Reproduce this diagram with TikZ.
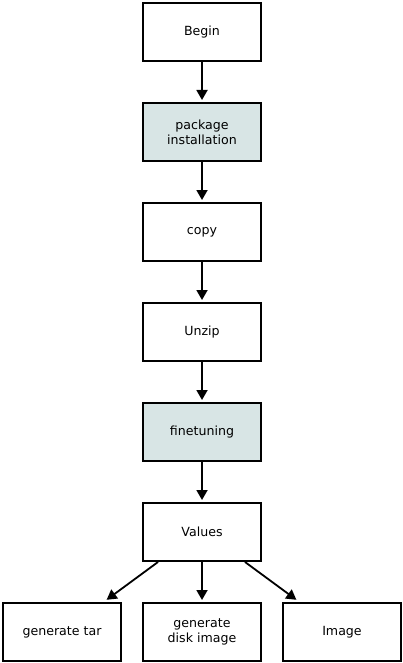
\documentclass[tikz,border=0pt]{standalone}
\usepackage{fontspec}
\setmainfont{DejaVu Sans}
\usetikzlibrary{arrows.meta}
\definecolor{boxfill}{HTML}{D8E5E5}
\tikzset{
  x=1pt,y=-1pt,
  box/.style={draw=black,line width=1.8pt,fill=white,minimum width=118.2pt,minimum height=58.2pt,inner sep=0pt,align=center,font=\fontsize{12.6}{15}\selectfont,text=black},
  shaded/.style={box,fill=boxfill},
  conn/.style={line width=1.8pt,-{Triangle[length=10pt,width=11pt]},shorten >=2pt}
}
\begin{document}
\begin{tikzpicture}
\useasboundingbox (0,0) rectangle (403,663);
\node[box] (begin) at (202,32) {Begin};
\node[shaded] (pkg) at (202,132) {package\\installation};
\node[box] (copy) at (202,232) {copy};
\node[box] (unzip) at (202,332) {Unzip};
\node[shaded] (fine) at (202,432) {finetuning};
\node[box] (values) at (202,532) {Values};
\node[box] (tar) at (62,632) {generate tar};
\node[box] (disk) at (202,632) {generate\\disk image};
\node[box] (image) at (342,632) {Image};
\draw[conn] (begin) -- (pkg);
\draw[conn] (pkg) -- (copy);
\draw[conn] (copy) -- (unzip);
\draw[conn] (unzip) -- (fine);
\draw[conn] (fine) -- (values);
\draw[conn] (values.south) ++(-44,0) coordinate (vl) (vl) -- (105,601);
\draw[conn] (values) -- (disk);
\draw[conn] (values.south) ++(43,0) coordinate (vr) (vr) -- (298,601);
\end{tikzpicture}
\end{document}
